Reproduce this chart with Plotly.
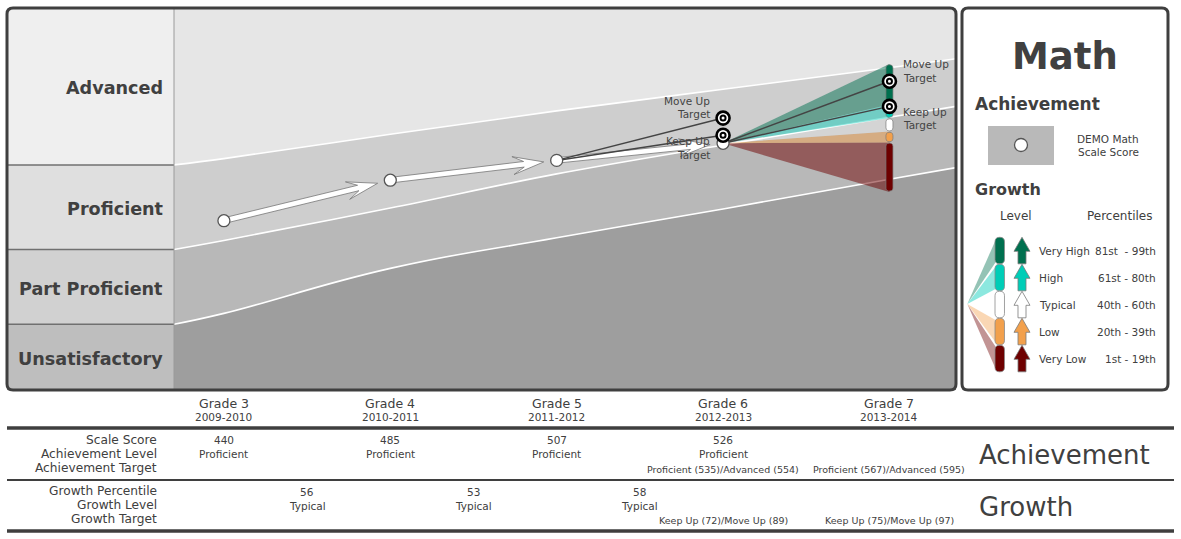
import math
import plotly.graph_objects as go

W, H = 1181, 539

# ---------------- data ----------------
GRADES = [3, 4, 5, 6]
GRADE_LABELS = ["Grade 3", "Grade 4", "Grade 5", "Grade 6", "Grade 7"]
GRADE_COLS = [3, 4, 5, 6, 7]
YEARS = ["2009-2010", "2010-2011", "2011-2012", "2012-2013", "2013-2014"]
SCALE_SCORES = [440, 485, 507, 526]
ACH_LEVELS = ["Proficient", "Proficient", "Proficient", "Proficient"]
ACH_TARGET_GRADES = [6, 7]
ACH_TARGETS = ["Proficient (535)/Advanced (554)", "Proficient (567)/Advanced (595)"]
GROWTH_COLS = [3.5, 4.5, 5.5]
GROWTH_PCT = [56, 53, 58]
GROWTH_LEVELS = ["Typical", "Typical", "Typical"]
GROWTH_TARGETS = ["Keep Up (72)/Move Up (89)", "Keep Up (75)/Move Up (97)"]

CUT_GRADES = [2.7, 3, 4, 5, 6, 7, 7.4]
CUT_PART = [325, 337, 387, 421, 453, 486, 499]
CUT_PROF = [408, 418, 454, 492, 524, 555, 567]
CUT_ADV = [502, 509, 536, 562, 586, 610, 620]

TARGET_FROM = [(5, 507), (6, 526)]
TARGET_GRADE = [6, 7]
TARGET_KEEP = [535, 567]
TARGET_MOVE = [554, 595]

PROJ_CUTS_G7 = [472, 527, 539, 554, 569, 614]
LEVEL_NAMES = ["Very Low", "Low", "Typical", "High", "Very High"]
LEVEL_COLORS = ["#6e0000", "#f2a04c", "#ffffff", "#00cdb7", "#00704f"]
LEVEL_FAN = ["rgba(110,0,0,0.5)", "rgba(242,160,76,0.5)", "rgba(255,255,255,0.4)",
             "rgba(0,205,183,0.45)", "rgba(0,112,79,0.5)"]
LEVEL_FAN_LEG = ["rgba(110,0,0,0.42)", "rgba(242,160,76,0.42)", "rgba(255,255,255,0.4)",
                 "rgba(0,205,183,0.45)", "rgba(0,112,79,0.42)"]
LEVEL_PCTS = ["1st - 19th", "20th - 39th", "40th - 60th", "61st - 80th", "81st\u00a0 - 99th"]

BAND_NAMES = ["Advanced", "Proficient", "Part Proficient", "Unsatisfactory"]

# ---------------- geometry ----------------
XR = [2.7, 7.4]
YR = [251.9, 676.3]
PX0, PX1, PY0, PY1 = 174, 956, 8, 390
kx = (PX1 - PX0) / (XR[1] - XR[0])
ky = (PY1 - PY0) / (YR[1] - YR[0])


def gx(g):
    return PX0 + (g - XR[0]) * kx


def sy(s):
    return PY1 - (s - YR[0]) * ky


def to_g(px):
    return XR[0] + (px - PX0) / kx


def to_s(py):
    return YR[0] + (PY1 - py) / ky


def P(x, y):
    return f"{x / W:.5f},{1 - y / H:.5f}"


def rr(x0, y0, x1, y1, r):
    return (f"M{P(x0 + r, y0)} L{P(x1 - r, y0)} Q{P(x1, y0)} {P(x1, y0 + r)} "
            f"L{P(x1, y1 - r)} Q{P(x1, y1)} {P(x1 - r, y1)} L{P(x0 + r, y1)} "
            f"Q{P(x0, y1)} {P(x0, y1 - r)} L{P(x0, y0 + r)} Q{P(x0, y0)} {P(x0 + r, y0)} Z")


def poly(pts):
    return "M" + " L".join(P(x, y) for x, y in pts) + " Z"


def pill_pts(x0, y0, x1, y1, r, n=5):
    pts = []
    corners = [(x1 - r, y0 + r, -90), (x1 - r, y1 - r, 0), (x0 + r, y1 - r, 90), (x0 + r, y0 + r, 180)]
    for cx, cy, a0 in corners:
        for k in range(n + 1):
            a = math.radians(a0 + 90 * k / n)
            pts.append((cx + r * math.cos(a), cy + r * math.sin(a)))
    pts.append(pts[0])
    return pts


shapes = []
ann = []
TXT = "#404040"
FONT = "DejaVu Sans"


def txt(x, y, s, size, anchor="center", color=TXT, bold=False, dy=0):
    ann.append(dict(x=x / W, y=1 - (y + dy) / H, xref="paper", yref="paper",
                    text=(f"<b>{s}</b>" if bold else s), showarrow=False,
                    xanchor=anchor, yanchor="middle", borderpad=0,
                    font=dict(size=size, color=color, family=FONT)))


fig = go.Figure()

# ---- bands ----
fig.add_trace(go.Scatter(x=CUT_GRADES, y=CUT_PART, mode="lines", fill="tozeroy",
                         fillcolor="#9e9e9e",
                         line=dict(color="white", width=1.6, shape="spline", smoothing=1.3),
                         hoverinfo="skip"))
fig.add_trace(go.Scatter(x=CUT_GRADES, y=CUT_PROF, mode="lines", fill="tonexty",
                         fillcolor="#b8b8b8", line=dict(color="white", width=1.6, shape="spline"),
                         hoverinfo="skip"))
fig.add_trace(go.Scatter(x=CUT_GRADES, y=CUT_ADV, mode="lines", fill="tonexty",
                         fillcolor="#cecece", line=dict(color="white", width=1.6, shape="spline"),
                         hoverinfo="skip"))

# ---- growth projection fan ----
g_from, s_from = GRADES[-1], SCALE_SCORES[-1]
for i in range(5):
    lo, hi = PROJ_CUTS_G7[i], PROJ_CUTS_G7[i + 1]
    fig.add_trace(go.Scatter(x=[g_from, 7, 7, g_from], y=[s_from, lo, hi, s_from],
                             mode="lines", fill="toself", fillcolor=LEVEL_FAN[i],
                             line=dict(width=0), hoverinfo="skip"))
for i in range(5):
    lo, hi = PROJ_CUTS_G7[i], PROJ_CUTS_G7[i + 1]
    cx = gx(7)
    pts = pill_pts(cx - 3.5, sy(hi) + 0.7, cx + 3.5, sy(lo) - 0.7, 3)
    fig.add_trace(go.Scatter(x=[to_g(p[0]) for p in pts], y=[to_s(p[1]) for p in pts],
                             mode="lines", fill="toself", fillcolor=LEVEL_COLORS[i],
                             line=dict(color="#7a7a7a", width=0.7), hoverinfo="skip"))

# ---- block arrows between yearly scores ----
for i in range(len(GRADES) - 1):
    x1, y1 = GRADES[i] * kx, SCALE_SCORES[i] * ky
    x2, y2 = GRADES[i + 1] * kx, SCALE_SCORES[i + 1] * ky
    d = math.hypot(x2 - x1, y2 - y1)
    ux, uy = (x2 - x1) / d, (y2 - y1) / d
    vx, vy = -uy, ux
    L = d - 13
    loc = [(0, 2.8), (L - 20, 2.8), (L - 31, 9), (L, 0), (L - 31, -9), (L - 20, -2.8), (0, -2.8), (0, 2.8)]
    xs = [(x1 + u * ux + v * vx) / kx for u, v in loc]
    ys = [(y1 + u * uy + v * vy) / ky for u, v in loc]
    fig.add_trace(go.Scatter(x=xs, y=ys, mode="lines", fill="toself", fillcolor="white",
                             line=dict(color="#777777", width=0.8), hoverinfo="skip"))

# ---- target lines ----
for (gf, sf), gt, k, m in zip(TARGET_FROM, TARGET_GRADE, TARGET_KEEP, TARGET_MOVE):
    for t in (k, m):
        fig.add_trace(go.Scatter(x=[gf, gt], y=[sf, t], mode="lines",
                                 line=dict(color="#444444", width=1.5), hoverinfo="skip"))

# ---- scores ----
fig.add_trace(go.Scatter(x=GRADES, y=SCALE_SCORES, mode="markers", hoverinfo="skip",
                         marker=dict(size=12, color="white", line=dict(color="#555555", width=1.3))))
tg = TARGET_GRADE + TARGET_GRADE
tv = TARGET_KEEP + TARGET_MOVE
fig.add_trace(go.Scatter(x=tg, y=tv, mode="markers", hoverinfo="skip",
                         marker=dict(size=13, color="white", line=dict(color="black", width=2.6))))
fig.add_trace(go.Scatter(x=tg, y=tv, mode="markers", hoverinfo="skip",
                         marker=dict(size=5, color="white", line=dict(color="black", width=2))))


# ---- target labels ----
def tlab(g, s, lines, xs, ys, anchor):
    for line, yy in zip(lines, ys):
        ann.append(dict(x=g, y=s, xref="x", yref="y", text=line, showarrow=False,
                        xanchor=anchor, yanchor="middle", xshift=xs, yshift=yy, borderpad=0,
                        font=dict(size=10.5, color="#444444", family=FONT)))


tlab(6, TARGET_MOVE[0], ["Move Up", "Target"], -12, [17.5, 4], "right")
tlab(6, TARGET_KEEP[0], ["Keep Up", "Target"], -12, [-5.5, -19.5], "right")
tlab(7, TARGET_MOVE[1], ["Move Up", "Target"], 13, [17, 3.5], "left")
tlab(7, TARGET_KEEP[1], ["Keep Up", "Target"], 13, [-5.5, -19], "left")

# ---- left label column ----
band_px = [8, sy(CUT_ADV[0]), sy(CUT_PROF[0]), sy(CUT_PART[0]), 390]
band_col = ["#efefef", "#dfdfdf", "#d1d1d1", "#bebebe"]
for i in range(4):
    shapes.append(dict(type="rect", xref="paper", yref="paper", layer="below",
                       x0=7 / W, x1=PX0 / W, y0=1 - band_px[i + 1] / H, y1=1 - band_px[i] / H,
                       fillcolor=band_col[i], line=dict(width=0)))
    txt(164, (band_px[i] + band_px[i + 1]) / 2, BAND_NAMES[i], 17.6, anchor="right", bold=True, dy=1.8)
for yy in band_px[1:4]:
    shapes.append(dict(type="line", xref="paper", yref="paper", layer="above",
                       x0=7 / W, x1=PX0 / W, y0=1 - yy / H, y1=1 - yy / H,
                       line=dict(color="#707070", width=1.5)))
shapes.append(dict(type="line", xref="paper", yref="paper", layer="above",
                   x0=PX0 / W, x1=PX0 / W, y0=1 - 8 / H, y1=1 - 390 / H,
                   line=dict(color="#9a9a9a", width=1)))
# main frame
shapes.append(dict(type="path", xref="paper", yref="paper", layer="above", path=rr(7, 8, 956, 390, 6),
                   line=dict(color="#3f3f3f", width=3), fillcolor="rgba(0,0,0,0)"))

# ---- legend panel ----
shapes.append(dict(type="path", xref="paper", yref="paper", layer="above", path=rr(962, 8, 1168, 390, 6),
                   line=dict(color="#3f3f3f", width=3), fillcolor="white"))
txt(1065, 57, "Math", 37, bold=True)
txt(974, 104, "Achievement", 17, anchor="left", bold=True)
shapes.append(dict(type="rect", xref="paper", yref="paper", layer="above",
                   x0=988 / W, x1=1054 / W, y0=1 - 165 / H, y1=1 - 126 / H,
                   fillcolor="#b9b9b9", line=dict(width=0)))
shapes.append(dict(type="circle", xref="paper", yref="paper", layer="above",
                   x0=1014.5 / W, x1=1027.5 / W, y0=1 - 151.5 / H, y1=1 - 138.5 / H,
                   fillcolor="white", line=dict(color="#555555", width=1.3)))
txt(1108, 139, "DEMO Math", 10.5)
txt(1108, 152, "Scale Score", 10.5)
txt(974, 190, "Growth", 16, anchor="left", bold=True)
txt(1016, 216, "Level", 12)
txt(1119, 216, "Percentiles", 12)

ox, oy = 967.3, 304
for j in range(5):
    i = 4 - j  # top = Very High
    top = 237.3 + 27 * j
    bot = top + 26.5
    shapes.append(dict(type="path", xref="paper", yref="paper", layer="above",
                       path=poly([(ox, oy), (996, top + 2), (996, bot - 2)]),
                       fillcolor=LEVEL_FAN_LEG[i], line=dict(width=0)))
for j in range(5):
    i = 4 - j
    top = 237.3 + 27 * j
    bot = top + 26.5
    shapes.append(dict(type="path", xref="paper", yref="paper", layer="above",
                       path=rr(995, top, 1004.5, bot, 4.5),
                       fillcolor=LEVEL_COLORS[i], line=dict(color="#8a8a8a", width=0.8)))
    shapes.append(dict(type="path", xref="paper", yref="paper", layer="above",
                       path=poly([(1022, top), (1030, top + 14), (1026, top + 14), (1026, bot),
                                  (1018, bot), (1018, top + 14), (1014, top + 14)]),
                       fillcolor=LEVEL_COLORS[i], line=dict(color="#7a7a7a", width=0.8)))
    txt(1038, top + 13.5, LEVEL_NAMES[i], 10.5, anchor="left")
    txt(1157, top + 13.5, LEVEL_PCTS[i], 10.5, anchor="right")

# ---- table ----
for g, gl, yr in zip(GRADE_COLS, GRADE_LABELS, YEARS):
    txt(gx(g), 403, gl, 12.5)
    txt(gx(g), 417, yr, 10.5)
for yy, w in [(428, 3.5), (480, 2.2), (531, 3.5)]:
    shapes.append(dict(type="line", xref="paper", yref="paper", layer="above",
                       x0=7 / W, x1=1174 / W, y0=1 - yy / H, y1=1 - yy / H,
                       line=dict(color="#3f3f3f", width=w)))
for lab, yy in [("Scale Score", 440), ("Achievement Level", 454), ("Achievement Target", 468),
                ("Growth Percentile", 491), ("Growth Level", 505), ("Growth Target", 519)]:
    txt(157.5, yy, lab, 12.2, anchor="right")
for g, s, lv in zip(GRADES, SCALE_SCORES, ACH_LEVELS):
    txt(gx(g), 440, str(s), 10.5)
    txt(gx(g), 454, lv, 10.5)
for g, t in zip(ACH_TARGET_GRADES, ACH_TARGETS):
    txt(gx(g), 469, t, 9.5)
for g, p, lv in zip(GROWTH_COLS, GROWTH_PCT, GROWTH_LEVELS):
    txt(gx(g), 492, str(p), 10.5)
    txt(gx(g), 506, lv, 10.5)
for g, t in zip(ACH_TARGET_GRADES, GROWTH_TARGETS):
    txt(gx(g), 520, t, 9.5)
txt(978, 455, "Achievement", 26, anchor="left")
txt(978, 507, "Growth", 26, anchor="left")

fig.update_layout(
    width=W, height=H, margin=dict(l=0, r=0, t=0, b=0),
    paper_bgcolor="white", plot_bgcolor="#e6e6e6", showlegend=False,
    xaxis=dict(range=XR, domain=[PX0 / W, PX1 / W], visible=False, fixedrange=True),
    yaxis=dict(range=YR, domain=[1 - PY1 / H, 1 - PY0 / H], visible=False, fixedrange=True),
    shapes=shapes, annotations=ann, font=dict(family=FONT, color=TXT),
)
fig.write_html("out.html", config={"displayModeBar": False})
